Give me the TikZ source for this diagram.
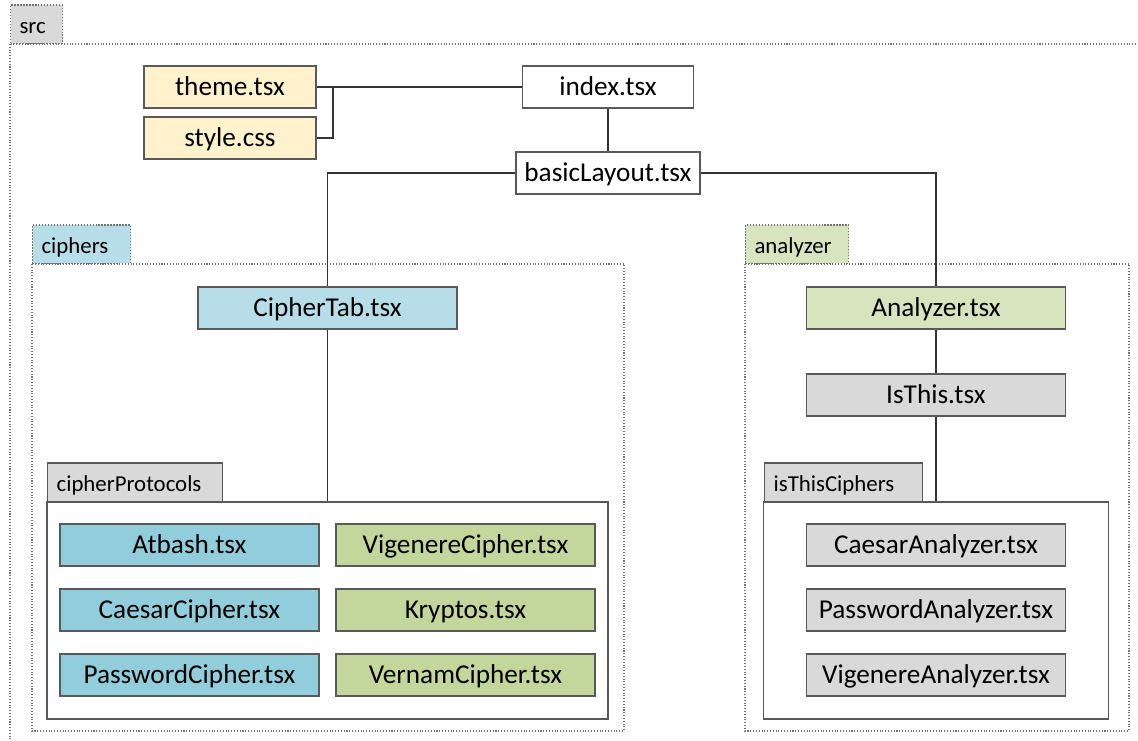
\documentclass[tikz,border=0pt]{standalone}
\usepackage{fontspec}
\setmainfont{Carlito}
\usetikzlibrary{positioning}

\definecolor{cfgfill}{HTML}{FFF2CC}
\definecolor{tabblue}{HTML}{B7DEE8}
\definecolor{cipherblue}{HTML}{92CDDC}
\definecolor{tabgreen}{HTML}{D7E4BD}
\definecolor{ciphergreen}{HTML}{C3D69B}
\definecolor{filegray}{HTML}{D9D9D9}

\tikzset{
  file/.style={draw=black!65, line width=0.8pt, minimum width=5.18cm, minimum height=0.84cm, inner sep=0pt, text height=11.5pt, text depth=1.5pt, font=\fontsize{15.5}{18}\selectfont},
  tab/.style={draw=black!65, line width=0.7pt, minimum height=0.77cm, inner xsep=0.18cm, inner ysep=0pt, text height=11pt, text depth=0.5pt, anchor=south west, align=left, font=\fontsize{13}{15}\selectfont},
  folder/.style={draw=black!55, densely dotted, line width=0.6pt},
  pbox/.style={draw=black!65, line width=0.8pt, inner sep=0pt},
  wire/.style={draw=black!80, line width=0.6pt},
}

\begin{document}
\begin{tikzpicture}[x=0.02cm,y=-0.02cm]
\useasboundingbox (0,0) rectangle (1138,740);
\clip (0,0) rectangle (1138,740);

% folders
\draw[folder] (10,44) rectangle (1160,760);
\node[tab,folder,fill=filegray,text width=0.68cm] (srctab) at (10,44) {src};
\draw[folder] (32,264) rectangle (624,731);
\node[tab,folder,fill=tabblue,text width=1.60cm] (ciphtab) at (32,264) {ciphers};
\draw[folder] (745,264) rectangle (1129,731);
\node[tab,folder,fill=tabgreen,text width=1.70cm] (anatab) at (745,264) {analyzer};

\node[pbox,minimum width=11.22cm,minimum height=4.34cm] (protobox) at (327.5,610.5) {};
\node[tab,fill=filegray,text width=3.14cm] (prototab) at (47,502) {cipherProtocols};
\node[pbox,minimum width=6.90cm,minimum height=4.34cm] (isbox) at (936,610.5) {};
\node[tab,fill=filegray,text width=2.80cm] (istab) at (764,502) {isThisCiphers};

% top files
\node[file,fill=cfgfill,minimum width=3.44cm] (theme) at (230,87) {theme.tsx};
\node[file,fill=cfgfill,minimum width=3.44cm] (style) at (230,138) {style.css};
\node[file,fill=white,minimum width=3.42cm] (index) at (608,87) {index.tsx};
\node[file,fill=white,minimum width=3.68cm] (basic) at (608,173) {basicLayout.tsx};

% ciphers
\node[file,fill=tabblue] (ciphertab) at (327.5,308) {CipherTab.tsx};
\node[file,fill=cipherblue] (atbash) at (189.5,545) {Atbash.tsx};
\node[file,fill=cipherblue] (caesar) at (189.5,610) {CaesarCipher.tsx};
\node[file,fill=cipherblue] (password) at (189.5,675) {PasswordCipher.tsx};
\node[file,fill=ciphergreen] (vigenere) at (465.5,545) {VigenereCipher.tsx};
\node[file,fill=ciphergreen] (kryptos) at (465.5,610) {Kryptos.tsx};
\node[file,fill=ciphergreen] (vernam) at (465.5,675) {VernamCipher.tsx};

% analyzer
\node[file,fill=tabgreen] (analyzer) at (936,308) {Analyzer.tsx};
\node[file,fill=filegray] (isthis) at (936,395) {IsThis.tsx};
\node[file,fill=filegray] (caesarana) at (936,545) {CaesarAnalyzer.tsx};
\node[file,fill=filegray] (passana) at (936,610) {PasswordAnalyzer.tsx};
\node[file,fill=filegray] (vigana) at (936,675) {VigenereAnalyzer.tsx};

% connectors
\coordinate (cfgjoin) at (333,87);
\draw[wire] (theme.east) -- (cfgjoin) -- (index.west);
\draw[wire] (style.east) -| (cfgjoin);
\draw[wire] (index.south) -- (basic.north);
\draw[wire] (basic.west) -| (ciphertab.north);
\draw[wire] (basic.east) -| (analyzer.north);
\draw[wire] (ciphertab.south) -- (ciphertab.south |- protobox.north);
\draw[wire] (analyzer.south) -- (isthis.north);
\draw[wire] (isthis.south) -- (isthis.south |- isbox.north);

\end{tikzpicture}
\end{document}
